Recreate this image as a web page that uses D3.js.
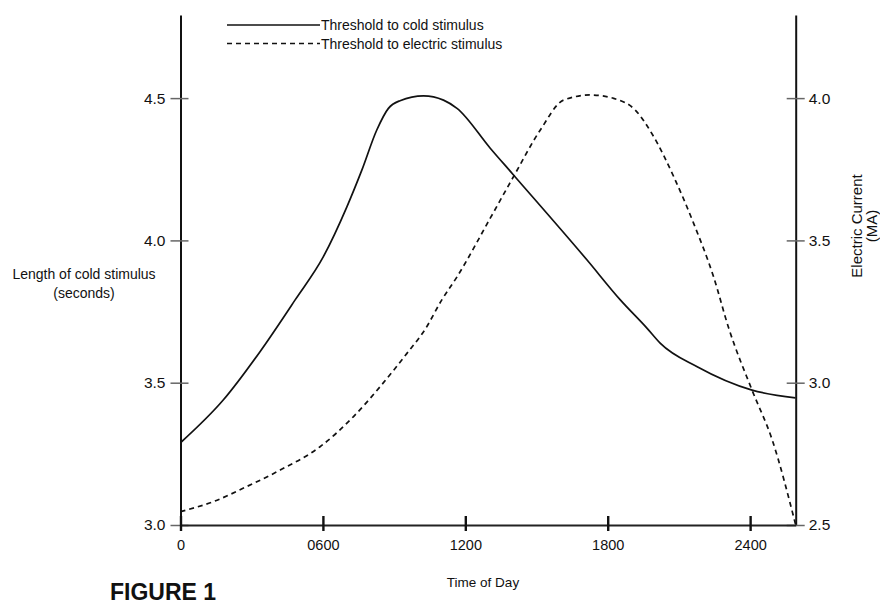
<!DOCTYPE html>
<html>
<head>
<meta charset="utf-8">
<script src="https://cdn.jsdelivr.net/npm/d3@7"></script>
<style>
  body { margin: 0; background: #fff; }
  text { font-family: "Liberation Sans", Arial, sans-serif; fill: #111; }
</style>
</head>
<body>
<svg id="chart" width="880" height="604"></svg>
<script>
// Time of day (hhmm, running past midnight) for each series
const coldHours = [0, 180, 335, 483, 602, 701, 764, 827, 876, 925, 1024, 1108, 1165, 1305, 1403, 1713, 1853, 1966, 2022, 2177, 2408, 2591];
// Threshold to cold stimulus, seconds (left axis)
const coldThreshold = [3.289, 3.439, 3.609, 3.791, 3.943, 4.118, 4.247, 4.388, 4.464, 4.491, 4.508, 4.493, 4.464, 4.324, 4.230, 3.931, 3.791, 3.691, 3.638, 3.556, 3.474, 3.447];

const electricHours = [0, 138, 279, 420, 588, 729, 841, 954, 1031, 1101, 1165, 1305, 1403, 1516, 1614, 1727, 1825, 1916, 1994, 2078, 2162, 2246, 2310, 2408, 2493, 2591];
// Threshold to electric stimulus, MA (right axis)
const electricThreshold = [2.547, 2.582, 2.635, 2.693, 2.775, 2.881, 2.986, 3.103, 3.188, 3.291, 3.372, 3.578, 3.724, 3.888, 3.993, 4.011, 3.999, 3.958, 3.864, 3.724, 3.560, 3.372, 3.191, 2.974, 2.799, 2.503];

const timeTicks = [0, 600, 1200, 1800, 2400];
const timeTickLabels = ["0", "0600", "1200", "1800", "2400"];
const leftTicks = [3.0, 3.5, 4.0, 4.5];
const rightTicks = [2.5, 3.0, 3.5, 4.0];
const seriesNames = ["Threshold to cold stimulus", "Threshold to electric stimulus"];

const svg = d3.select("#chart");
const plotLeft = 180.5, plotRight = 795.7, plotTop = 15, plotBottom = 525;

const x = d3.scaleLinear().domain([0, 2592]).range([plotLeft, plotRight]);
const yL = d3.scaleLinear().domain([3.0, 4.792]).range([plotBottom, plotTop]);
const yR = d3.scaleLinear().domain([2.5, 4.292]).range([plotBottom, plotTop]);

// Left axis: ticks cross the line
const gL = svg.append("g").attr("transform", `translate(${plotLeft},0)`)
  .call(d3.axisLeft(yL).tickValues(leftTicks).tickFormat(d3.format(".1f"))
    .tickSize(10).tickSizeOuter(0).tickPadding(5));
gL.selectAll(".tick line").attr("x2", -10).attr("x1", 8).attr("stroke", "#666").attr("stroke-width", 1.5);
gL.select(".domain").attr("stroke", "#111").attr("stroke-width", 2);
gL.selectAll(".tick text").style("font-size", "15.5px").attr("fill", "#111");

// Right axis
const gR = svg.append("g").attr("transform", `translate(${plotRight},0)`)
  .call(d3.axisRight(yR).tickValues(rightTicks).tickFormat(d3.format(".1f"))
    .tickSize(9).tickSizeOuter(0).tickPadding(4));
gR.selectAll(".tick line").attr("x1", -9).attr("stroke", "#666").attr("stroke-width", 1.5);
gR.select(".domain").attr("stroke", "#111").attr("stroke-width", 2);
gR.selectAll(".tick text").style("font-size", "15.5px").attr("fill", "#111");

// Bottom axis
const gB = svg.append("g").attr("transform", `translate(0,${plotBottom})`)
  .call(d3.axisBottom(x).tickValues(timeTicks).tickFormat((d, i) => timeTickLabels[i])
    .tickSize(6).tickSizeOuter(0).tickPadding(9));
gB.selectAll(".tick line").attr("y1", -9).attr("stroke", "#111").attr("stroke-width", 2.4);
gB.select(".domain").attr("stroke", "#222").attr("stroke-width", 2);
gB.selectAll(".tick text").style("font-size", "14.5px").attr("fill", "#111");
svg.selectAll("g").attr("font-family", null);

// Curves
const lineCold = d3.line()
  .x((d, i) => x(coldHours[i])).y(d => yL(d))
  .curve(d3.curveMonotoneX);
const lineElectric = d3.line()
  .x((d, i) => x(electricHours[i])).y(d => yR(d))
  .curve(d3.curveMonotoneX);

svg.append("path").datum(coldThreshold)
  .attr("d", lineCold).attr("fill", "none")
  .attr("stroke", "#111").attr("stroke-width", 1.7);
svg.append("path").datum(electricThreshold)
  .attr("d", lineElectric).attr("fill", "none")
  .attr("stroke", "#111").attr("stroke-width", 1.7)
  .attr("stroke-dasharray", "5,4");

// Legend
const legend = svg.append("g");
[25, 43.5].forEach((ly, i) => {
  legend.append("line").attr("x1", 227).attr("x2", 320).attr("y1", ly).attr("y2", ly)
    .attr("stroke", "#111").attr("stroke-width", 1.5)
    .attr("stroke-dasharray", i === 1 ? "5,4" : null);
  legend.append("text").attr("x", 321).attr("y", ly + 5)
    .style("font-size", "14px").text(seriesNames[i]);
});

// Axis titles
const lt = svg.append("text").attr("text-anchor", "middle").style("font-size", "14px");
lt.append("tspan").attr("x", 84).attr("y", 279).text("Length of cold stimulus");
lt.append("tspan").attr("x", 84).attr("y", 297.5).text("(seconds)");

const rt = svg.append("text").attr("text-anchor", "middle").style("font-size", "15px")
  .attr("transform", "translate(0,226) rotate(-90)");
rt.append("tspan").attr("x", 0).attr("y", 862).text("Electric Current");
rt.append("tspan").attr("x", 0).attr("y", 877).text("(MA)");

svg.append("text").attr("x", 483).attr("y", 587).attr("text-anchor", "middle")
  .style("font-size", "13.5px").text("Time of Day");

svg.append("text").attr("x", 110).attr("y", 600)
  .style("font-size", "23px").style("font-weight", "bold").text("FIGURE 1");
</script>
</body>
</html>
